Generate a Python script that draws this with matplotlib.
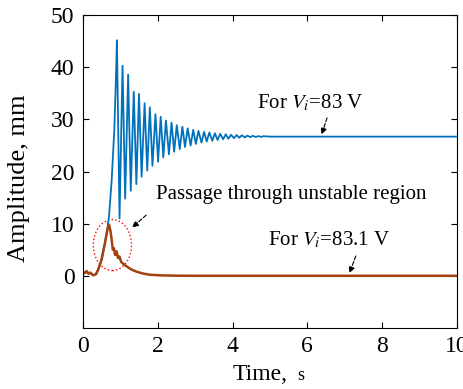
import matplotlib as mp
mp.use("Agg")
mp.rcParams.update({
    "font.family": "serif",
    "font.serif": ["Liberation Serif", "DejaVu Serif"],
    "mathtext.fontset": "stix",
})
import matplotlib.pyplot as plt
from matplotlib.patches import Ellipse

# blue curve, V_i = 83 V : start, rise, then peaks / troughs of the ringing
t_rise = [0.0, 0.05, 0.1, 0.15, 0.2, 0.27, 0.35, 0.41, 0.5, 0.59, 0.65, 0.70, 0.77, 0.84, 0.88]
a_rise = [0.8, 0.5, 0.9, 0.4, 0.6, 0.1, 0.3, 1.2, 3.1, 6.3, 8.8, 11.5, 18.4, 28.0, 37.0]

t_peak = [0.91, 1.06, 1.21, 1.36, 1.50, 1.65, 1.79, 1.94, 2.08, 2.22, 2.37, 2.51, 2.66, 2.80,
          2.95, 3.09, 3.24, 3.38, 3.53, 3.67, 3.82, 3.96, 4.11, 4.25, 4.40, 4.54, 4.69, 4.83]
a_peak = [45.2, 40.3, 38.6, 35.3, 34.9, 33.1, 32.3, 31.0, 30.5, 29.8, 29.4, 28.9, 28.6, 28.3,
          28.0, 27.8, 27.6, 27.5, 27.35, 27.25, 27.15, 27.05, 27.0, 26.95, 26.9, 26.85, 26.8, 26.78]
t_trough = [0.98, 1.13, 1.28, 1.43, 1.57, 1.72, 1.86, 2.01, 2.15, 2.30, 2.44, 2.59, 2.73, 2.88,
            3.02, 3.17, 3.31, 3.46, 3.60, 3.75, 3.89, 4.04, 4.18, 4.33, 4.47, 4.62, 4.76]
a_trough = [11.0, 14.8, 16.3, 17.6, 19.0, 20.2, 21.1, 21.9, 22.7, 23.3, 23.8, 24.3, 24.7, 25.0,
            25.3, 25.55, 25.75, 25.9, 26.05, 26.2, 26.3, 26.4, 26.48, 26.55, 26.6, 26.63, 26.65]
t_tail = [5.0, 10.0]
a_tail = [26.7, 26.7]

# brown curve, V_i = 83.1 V
t_low = [0.0, 0.05, 0.1, 0.15, 0.2, 0.27, 0.35, 0.41, 0.5, 0.59, 0.66, 0.70, 0.74, 0.77, 0.80,
         0.83, 0.86, 0.90, 0.94, 0.98, 1.02, 1.08, 1.17, 1.3, 1.43, 1.6, 1.79, 2.1, 2.5, 3.0, 10.0]
a_low = [0.8, 0.5, 0.9, 0.4, 0.6, 0.1, 0.3, 1.2, 3.1, 6.3, 9.0, 9.8, 8.5, 6.9, 5.0,
         5.3, 4.0, 4.7, 3.4, 3.7, 2.7, 2.3, 1.8, 1.2, 0.8, 0.45, 0.2, 0.08, 0.02, 0.0, 0.0]

ring = sorted(zip(t_peak + t_trough, a_peak + a_trough))
t_hi = t_rise + [p[0] for p in ring] + t_tail
a_hi = a_rise + [p[1] for p in ring] + a_tail

fig = plt.figure(figsize=(4.63, 3.89), dpi=100)
ax = fig.add_axes([0.179, 0.157, 0.808, 0.804])

ax.plot(t_hi, a_hi, c="#0072BD", lw=1.3)
ax.plot(t_low, a_low, c="#A3420F", lw=1.8)

ax.set_xlim(0, 10)
ax.set_ylim(-10, 50)
ax.set_xticks([0, 2, 4, 6, 8, 10])
ax.set_yticks([0, 10, 20, 30, 40, 50])
ax.tick_params(direction="in", top=True, right=True, labelsize=17, length=4, pad=6)
ax.set_ylabel("Amplitude, mm", fontsize=19)
ax.yaxis.set_label_coords(-0.142, 0.48)
ax.text(0.548, -0.165, "Time,", transform=ax.transAxes, ha="right", va="baseline", fontsize=17)
ax.text(0.574, -0.165, "s", transform=ax.transAxes, ha="left", va="baseline", fontsize=13)

ax.add_patch(Ellipse((0.79, 5.9), 1.02, 9.8, fill=False, ec="red", ls=":", lw=1.0))

arr = dict(arrowstyle="-|>", ls="--", lw=0.8, color="k", mutation_scale=9)
ax.annotate("", xy=(1.26, 8.9), xytext=(1.75, 12.0), arrowprops=arr)
ax.text(5.57, 15.6, "Passage through unstable region", ha="center", va="center", fontsize=15)

ax.annotate("", xy=(6.36, 26.6), xytext=(6.55, 30.8), arrowprops=arr)
ax.text(6.07, 33.2, "For $V_i$=83 V", ha="center", va="center", fontsize=15)

ax.annotate("", xy=(7.1, 0.0), xytext=(7.32, 4.3), arrowprops=arr)
ax.text(6.57, 6.9, "For $V_i$=83.1 V", ha="center", va="center", fontsize=15)

fig.savefig("out.png", dpi=100)
